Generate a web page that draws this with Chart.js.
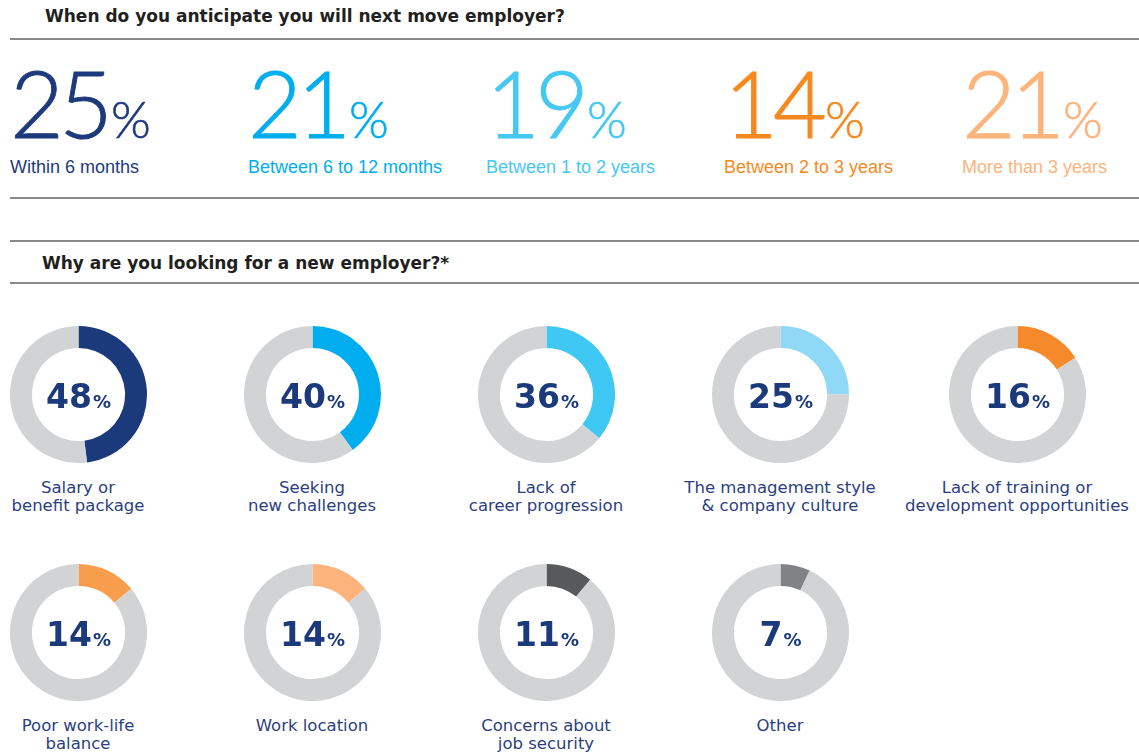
<!DOCTYPE html>
<html>
<head>
<meta charset="utf-8">
<script src="https://cdn.jsdelivr.net/npm/chart.js@4.4.1/dist/chart.umd.min.js"></script>
<style>
  html, body { margin: 0; padding: 0; background: #fff; }
  body { width: 1139px; height: 756px; position: relative; overflow: hidden; font-family: 'Liberation Sans', Arial, sans-serif; }
  .rule { position: absolute; left: 10px; right: 0; height: 2px; background: #8a8a8a; }
  .heading { position: absolute; font-family: 'DejaVu Sans', sans-serif; font-weight: bold; font-size: 17px; color: #231f20; white-space: nowrap; }
  .stat { position: absolute; white-space: nowrap; }
  .stat .big { line-height: 74px; height: 74px; }
  .stat .num { font-family: 'Lato', sans-serif; font-weight: 300; font-size: 93px; letter-spacing: -5px; -webkit-text-stroke: 0.9px currentColor; }
  .stat .pct { font-family: 'Lato', sans-serif; font-weight: 300; font-size: 51px; margin-left: 3px; -webkit-text-stroke: 0.6px currentColor; }
  .stat .lbl { position: absolute; left: 0; top: 92px; font-size: 18px; line-height: 20px; }
  .donut { position: absolute; width: 137px; height: 137px; }
  .caption { position: absolute; width: 260px; text-align: center; font-family: 'DejaVu Sans', sans-serif; font-size: 16.5px; line-height: 18px; color: #2b3f7f; }
</style>
</head>
<body>
<div class="heading" style="left:45px; top:6px;">When do you anticipate you will next move employer?</div>
<div class="rule" style="top:38px;"></div>
<div id="stats"></div>
<div class="rule" style="top:197px;"></div>
<div class="rule" style="top:240px;"></div>
<div class="heading" style="left:42px; top:253px;">Why are you looking for a new employer?*</div>
<div class="rule" style="top:282px;"></div>
<div id="donuts"></div>

<script>
// ==========================================
// DATA
// ==========================================

// When do you anticipate you will next move employer?
const moveLabels = ['Within 6 months', 'Between 6 to 12 months', 'Between 1 to 2 years', 'Between 2 to 3 years', 'More than 3 years'];
const moveValues = [25, 21, 19, 14, 21];
const moveColors = ['#1d3a7c', '#00aeef', '#45c8f3', '#f7891f', '#fcb47c'];

// Why are you looking for a new employer?
const reasonLabels = [
    ['Salary or', 'benefit package'],
    ['Seeking', 'new challenges'],
    ['Lack of', 'career progression'],
    ['The management style', '& company culture'],
    ['Lack of training or', 'development opportunities'],
    ['Poor work-life', 'balance'],
    ['Work location'],
    ['Concerns about', 'job security'],
    ['Other']
];
const reasonValues = [48, 40, 36, 25, 16, 14, 14, 11, 7];
const reasonColors = ['#1b3a7c', '#00aeef', '#3fc8f4', '#90d9f6', '#f6892a', '#f89d4c', '#fcb47c', '#58595b', '#808285'];

const ringGrey = '#d1d3d4';
const navy = '#1b3a7c';

// ==========================================
// HEADLINE STATS
// ==========================================

const statsEl = document.getElementById('stats');
moveValues.forEach((v, i) => {
    const el = document.createElement('div');
    el.className = 'stat';
    el.style.left = (10 + i * 238) + 'px';
    el.style.top = '65px';
    el.style.color = moveColors[i];
    el.innerHTML = `<div class="big"><span class="num">${v}</span><span class="pct">%</span></div><div class="lbl">${moveLabels[i]}</div>`;
    statsEl.appendChild(el);
});

// ==========================================
// DOUGHNUT CHARTS
// ==========================================

// Draws the big "48%" in the hole of each ring
const centerText = {
    id: 'centerText',
    afterDraw(chart) {
        const { ctx, chartArea } = chart;
        const cx = (chartArea.left + chartArea.right) / 2;
        const cy = (chartArea.top + chartArea.bottom) / 2;
        const value = String(chart.data.datasets[0].data[0]);
        ctx.save();
        ctx.fillStyle = navy;
        ctx.textBaseline = 'alphabetic';
        const bigFont = 'bold 33px "DejaVu Sans", sans-serif';
        const smallFont = 'bold 18px "DejaVu Sans", sans-serif';
        ctx.font = bigFont;
        const wBig = ctx.measureText(value).width;
        ctx.font = smallFont;
        const wSmall = ctx.measureText('%').width;
        const x0 = cx - (wBig + wSmall + 1) / 2;
        const baseline = cy + 13;
        ctx.font = bigFont;
        ctx.fillText(value, x0, baseline);
        ctx.font = smallFont;
        ctx.fillText('%', x0 + wBig + 1, baseline);
        ctx.restore();
    }
};

const donutCenters = [
    [78, 394], [312, 394], [546, 394], [780, 394], [1017, 394],
    [78, 632], [312, 632], [546, 632], [780, 632]
];

const donutsEl = document.getElementById('donuts');
reasonValues.forEach((v, i) => {
    const [cx, cy] = donutCenters[i];
    const box = document.createElement('div');
    box.className = 'donut';
    box.style.left = (cx - 68.5) + 'px';
    box.style.top = (cy - 68.5) + 'px';
    const canvas = document.createElement('canvas');
    box.appendChild(canvas);
    donutsEl.appendChild(box);

    const cap = document.createElement('div');
    cap.className = 'caption';
    cap.style.left = (cx - 130) + 'px';
    cap.style.top = (cy + 85) + 'px';
    cap.innerHTML = reasonLabels[i].join('<br>');
    donutsEl.appendChild(cap);

    new Chart(canvas.getContext('2d'), {
        type: 'doughnut',
        data: {
            labels: [reasonLabels[i].join(' '), ''],
            datasets: [{
                data: [v, 100 - v],
                backgroundColor: [reasonColors[i], ringGrey],
                borderWidth: 0
            }]
        },
        options: {
            responsive: true,
            maintainAspectRatio: false,
            cutout: '68%',
            animation: false,
            layout: { padding: 0 },
            plugins: {
                legend: { display: false },
                tooltip: { enabled: false }
            }
        },
        plugins: [centerText]
    });
});
</script>
</body>
</html>
